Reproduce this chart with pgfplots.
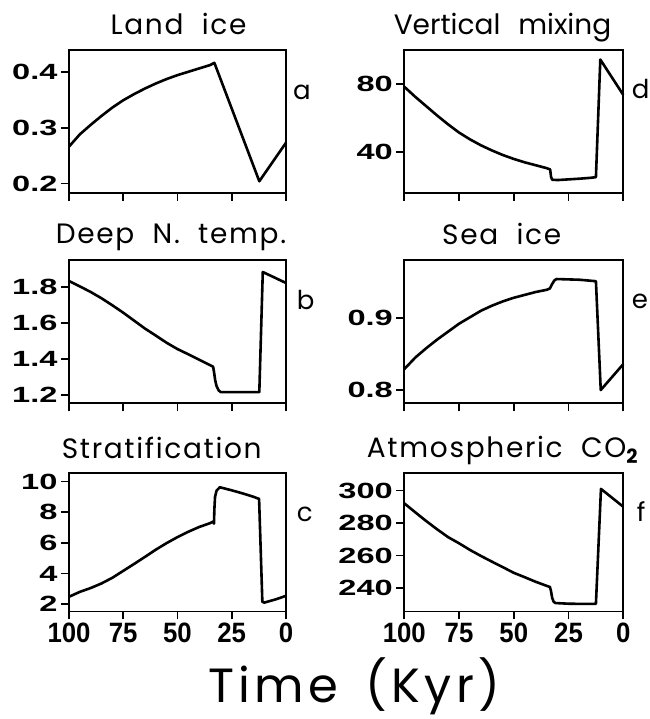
\documentclass[border=0pt]{standalone}
\usepackage{pgfplots}
\pgfplotsset{compat=1.18}
\usepackage{fontspec}
\setmainfont{Poppins}
\newfontfamily\ytfont{Liberation Sans}[FakeStretch=1.48]
\newfontfamily\xtfont{Liberation Sans}[FakeStretch=0.92]
\newfontfamily\ttlfont{Poppins}[LetterSpace=6, WordSpace=2]
\newfontfamily\ttlfontb{Poppins}[LetterSpace=0, WordSpace=2.4]
\newfontfamily\timefont{Poppins}[LetterSpace=9, WordSpace=1.6]

\pgfplotsset{
  panel/.style={
    scale only axis, anchor=south west,
    xmin=0, xmax=100, x dir=reverse,
    xtick={0,25,50,75,100},
    xtick pos=bottom, ytick pos=left,
    tick align=outside, major tick length=8pt,
    minor tick num=0,
    axis line style={line width=1.8pt},
    tick style={line width=1.8pt, black},
    clip=false,
    /pgf/number format/assume math mode=true,
    /pgf/number format/fixed,
    yticklabel style={font=\ytfont\bfseries\fontsize{22}{22}\selectfont},
    xticklabel style={font=\xtfont\bfseries\fontsize{28}{28}\selectfont},
  },
  curve/.style={black, line width=2.6pt, line join=round, no marks},
}

\begin{document}
\begin{tikzpicture}[x=1pt,y=1pt]
\useasboundingbox (0,0) rectangle (649,719);

% a: Land ice
\begin{axis}[panel, at={(69pt,526pt)}, width=217pt, height=143pt,
  ymin=0.183, ymax=0.439, ytick={0.2,0.3,0.4}, xticklabels={}]
\addplot[curve] coordinates {(100,0.266)(95,0.288)(90,0.305)(85,0.321)(80,0.336)(75,0.349)(70,0.360)(65,0.370)(60,0.379)(55,0.387)(50,0.394)(45,0.400)(40,0.406)(35,0.412)(33,0.416)(12.3,0.204)(0,0.273)};
\end{axis}

% d: Vertical mixing
\begin{axis}[panel, at={(404.3pt,526pt)}, width=219pt, height=143pt,
  ymin=16, ymax=100, ytick={40,80}, xticklabels={}]
\addplot[curve] coordinates {(100,78.4)(95,72.5)(90,67.0)(85,61.5)(80,56.3)(75,51.5)(70,47.5)(65,44.0)(60,41.0)(55,38.3)(50,36.0)(45,34.0)(40,32.3)(35,30.6)(33.4,29.8)(33.0,25.5)(32.5,23.8)(30,23.6)(25,24.0)(20,24.4)(15,24.9)(12.5,25.3)(10.5,94.4)(0,73.6)};
\end{axis}

% b: Deep N. temp.
\begin{axis}[panel, at={(69pt,315.7pt)}, width=217pt, height=143pt,
  ymin=1.154, ymax=1.948, ytick={1.2,1.4,1.6,1.8}, xticklabels={}]
\addplot[curve] coordinates {(100,1.833)(95,1.803)(90,1.772)(85,1.737)(80,1.698)(75,1.657)(70,1.613)(65,1.569)(60,1.530)(55,1.490)(50,1.455)(45,1.426)(40,1.396)(35,1.366)(33.6,1.357)(33.2,1.330)(32.6,1.280)(32,1.250)(31,1.225)(30,1.216)(20,1.216)(12.3,1.216)(10.7,1.883)(0,1.822)};
\end{axis}

% e: Sea ice
\begin{axis}[panel, at={(404.3pt,315.7pt)}, width=219pt, height=143pt,
  ymin=0.7816, ymax=0.980, ytick={0.8,0.9}, xticklabels={}]
\addplot[curve] coordinates {(100,0.829)(95,0.845)(90,0.858)(85,0.870)(80,0.881)(75,0.892)(70,0.901)(65,0.910)(60,0.917)(55,0.923)(50,0.928)(45,0.932)(40,0.936)(35,0.939)(33.5,0.941)(32.5,0.947)(31.5,0.952)(30.5,0.954)(20,0.953)(12.5,0.951)(10.3,0.800)(0,0.836)};
\end{axis}

% c: Stratification
\begin{axis}[panel, at={(69pt,107.5pt)}, width=217pt, height=138.5pt,
  ymin=1.52, ymax=10.55, ytick={2,4,6,8,10}]
\addplot[curve] coordinates {(100,2.48)(95,2.80)(90,3.05)(85,3.35)(80,3.72)(75,4.17)(70,4.62)(65,5.08)(60,5.55)(55,5.98)(50,6.37)(45,6.72)(40,7.03)(35,7.28)(33.6,7.38)(33.2,7.25)(33.0,8.2)(32.7,9.0)(32,9.4)(30.5,9.62)(25,9.42)(20,9.22)(15,9.0)(12.4,8.86)(10.9,2.15)(10,2.1)(5,2.3)(0,2.54)};
\end{axis}

% f: Atmospheric CO2
\begin{axis}[panel, at={(404.3pt,107.5pt)}, width=219pt, height=138.5pt,
  ymin=225.5, ymax=310.8, ytick={240,260,280,300}]
\addplot[curve] coordinates {(100,292.1)(95,286.6)(90,281.2)(85,276.1)(80,271.3)(75,267.5)(70,263.4)(65,259.7)(60,256.2)(55,252.8)(50,249.3)(45,246.6)(40,243.8)(35,241.3)(33.5,240.6)(33,238)(32.5,234)(31.8,231.5)(31,230.7)(25,230.3)(20,230.2)(12.5,230.2)(10.2,301.0)(0,290.0)};
\end{axis}

% titles
\begin{scope}[every node/.style={font=\ttlfont\fontsize{28}{28}\selectfont, anchor=base, inner sep=0pt}]
\node at (178.5,684) {Land ice};
\node[font=\ttlfontb\fontsize{28}{28}\selectfont] at (502.5,684) {Vertical mixing};
\node at (171,475.7) {Deep N. temp.};
\node at (501.7,474) {Sea ice};
\node at (161.7,260.7) {Stratification};
\node at (502.5,261.7) {Atmospheric CO\textsubscript{\bfseries 2}};
\end{scope}

% panel letters
\begin{scope}[every node/.style={font=\fontsize{26}{26}\selectfont, anchor=base west, inner sep=0pt}]
\node at (293,619) {a};
\node at (631.7,620.7) {d};
\node at (296.7,409) {b};
\node at (631.7,410.7) {e};
\node at (296.7,197.3) {c};
\node at (636.7,197.3) {f};
\end{scope}

\node[font=\timefont\fontsize{48}{48}\selectfont, anchor=base west, inner sep=0pt] at (208,16.5) {Time (Kyr)};
\end{tikzpicture}
\end{document}
